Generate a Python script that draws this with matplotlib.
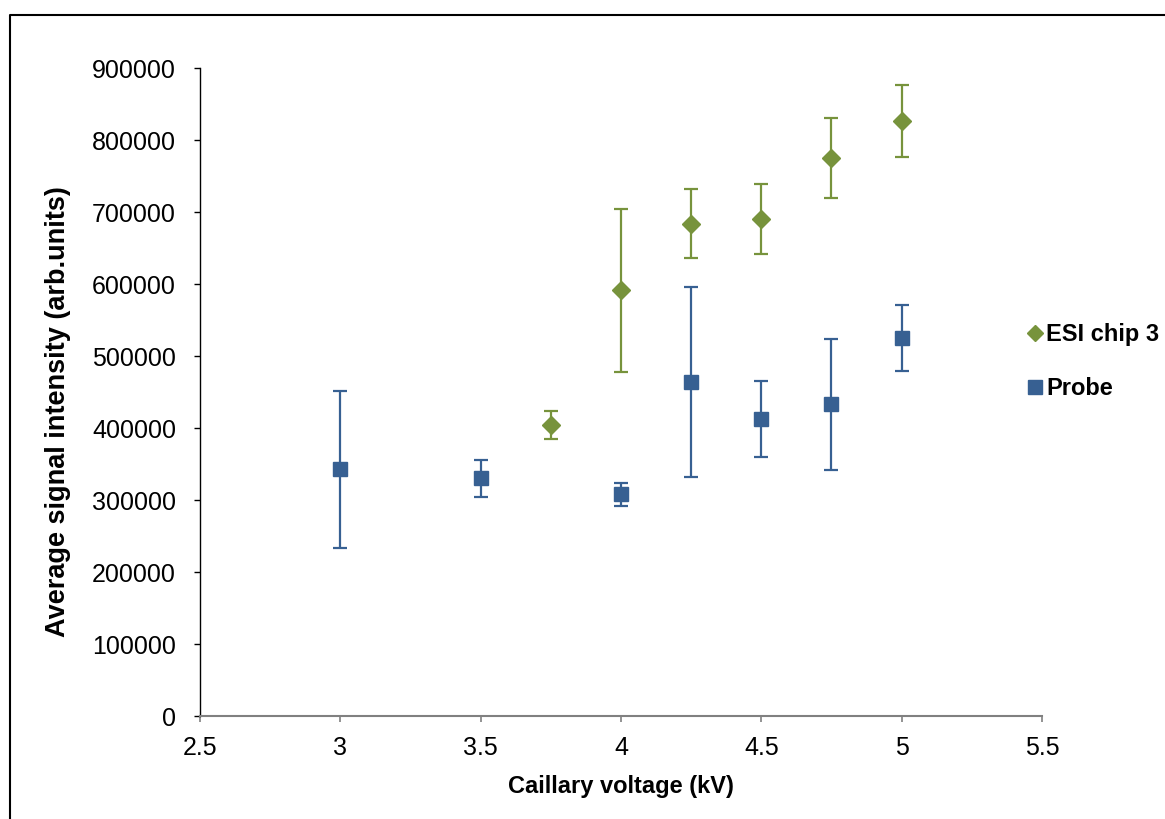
import matplotlib
matplotlib.use("Agg")
import matplotlib.pyplot as plt
from matplotlib.lines import Line2D

plt.rcParams['font.family'] = ['Liberation Sans', 'DejaVu Sans']

# Data
esi_x = [3.75, 4.0, 4.25, 4.5, 4.75, 5.0]
esi_y = [404000, 591000, 684000, 690000, 775000, 826000]
esi_err = [19000, 113000, 48000, 48500, 55000, 50000]

probe_x = [3.0, 3.5, 4.0, 4.25, 4.5, 4.75, 5.0]
probe_y = [343000, 330000, 308000, 464000, 412000, 433000, 525000]
probe_err = [109000, 25500, 16000, 132500, 52800, 91000, 46500]

series_names = ["ESI chip 3", "Probe"]
x_ticks = [2.5, 3, 3.5, 4, 4.5, 5, 5.5]
x_ticklabels = ["2.5", "3", "3.5", "4", "4.5", "5", "5.5"]
y_ticks = [0, 100000, 200000, 300000, 400000, 500000, 600000, 700000, 800000, 900000]

green = "#77933C"
blue = "#376092"

fig = plt.figure(figsize=(11.65, 8.19), dpi=100)
ax = fig.add_axes([200/1165, 1-716/819, (1042-200)/1165, (716-68)/819])

ax.errorbar(esi_x, esi_y, yerr=esi_err, fmt='D', color=green, ecolor=green,
            markersize=9, elinewidth=1.6, capsize=5, capthick=1.6, zorder=3)
ax.errorbar(probe_x, probe_y, yerr=probe_err, fmt='s', color=blue, ecolor=blue,
            markersize=10, elinewidth=1.6, capsize=5, capthick=1.6, zorder=3)

ax.set_xlim(2.5, 5.5)
ax.set_ylim(0, 900000)
ax.set_xticks(x_ticks)
ax.set_xticklabels(x_ticklabels)
ax.set_yticks(y_ticks)
ax.set_yticklabels([str(v) for v in y_ticks])

for s in ['top', 'right']:
    ax.spines[s].set_visible(False)
ax.spines['left'].set_color('black')
ax.spines['left'].set_linewidth(1.0)
ax.spines['bottom'].set_color('#808080')
ax.spines['bottom'].set_linewidth(1.5)

ax.tick_params(axis='y', direction='out', length=4.3, width=1, color='black',
               labelsize=18, pad=13)
ax.tick_params(axis='x', direction='out', length=4.3, width=1.2, color='#808080',
               labelsize=18, pad=10)

ax.set_xlabel("Caillary voltage (kV)", fontsize=17, fontweight='bold', labelpad=11)
ax.set_ylabel("Average signal intensity (arb.units)", fontsize=19.5, fontweight='bold', labelpad=15)
ax.yaxis.label.set_y(0.47)

handles = [Line2D([], [], linestyle='none', marker='D', color=green, markersize=8),
           Line2D([], [], linestyle='none', marker='s', color=blue, markersize=10)]
leg = fig.legend(handles, series_names, loc='upper left',
                 bbox_to_anchor=(1018/1165, 1-314/819), frameon=False,
                 prop={'size': 17, 'weight': 'bold'}, handlelength=0.6,
                 handletextpad=0.2, labelspacing=1.3, borderaxespad=0)

# Figure border
fig.add_artist(Line2D([10/1165, 10/1165, 1.0], [0.0, 1-15/819, 1-15/819],
                      transform=fig.transFigure, color='black', linewidth=1.5))

fig.savefig("out.png", dpi=100)
